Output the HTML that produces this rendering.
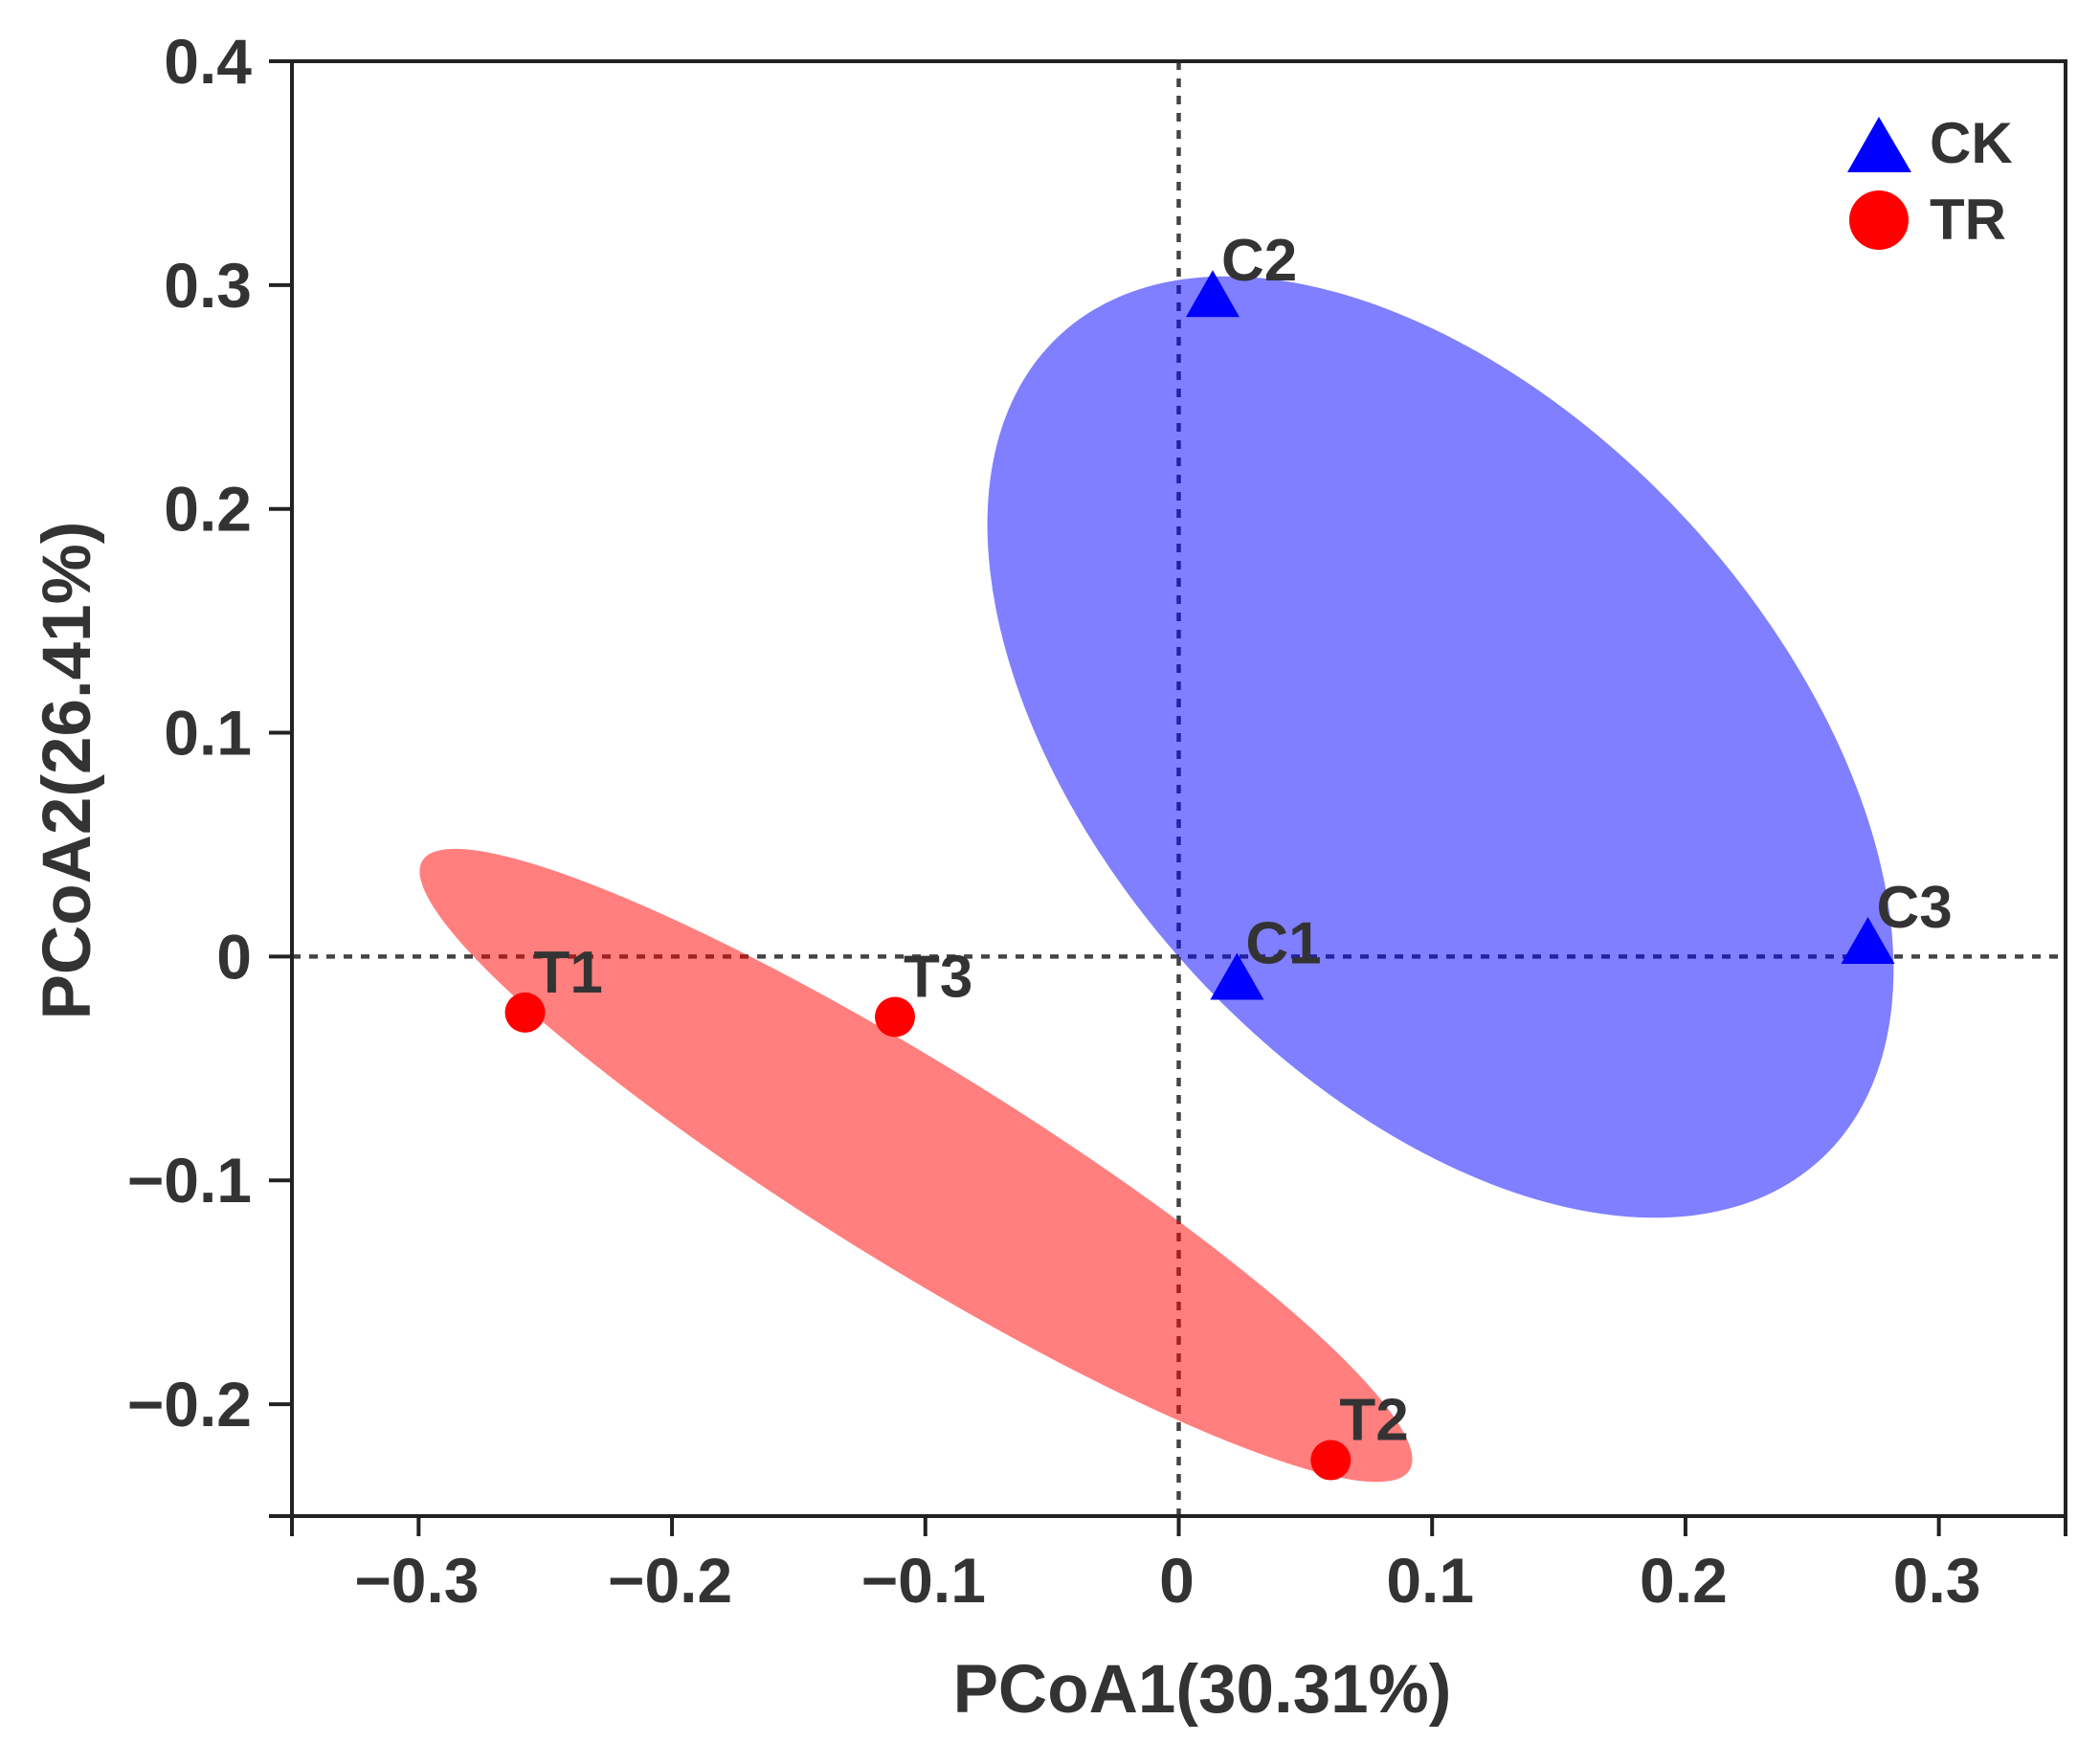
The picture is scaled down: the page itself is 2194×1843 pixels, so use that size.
<!DOCTYPE html>
<html><head><meta charset="utf-8"><style>
html,body{margin:0;padding:0;background:#fff}
svg{display:block}
text{font-family:"Liberation Sans",Arial,sans-serif;font-weight:bold;fill:#333}
</style></head><body>
<svg id="chart" width="2194" height="1843" viewBox="0 0 2194 1843" xmlns="http://www.w3.org/2000/svg">
<g id="grid"></g>
<g id="ellipses"></g>
<g id="axes"></g>
<g id="points"></g>
<g id="legend"></g>
<text x="1256" y="1789" font-size="71" text-anchor="middle">PCoA1(30.31%)</text>
<text transform="translate(94,805) rotate(-90)" font-size="71" text-anchor="middle">PCoA2(26.41%)</text>
</svg>
<script>
const sampleNames = ["C1","C2","C3","T1","T2","T3"];
const sampleGroups = ["CK","CK","CK","TR","TR","TR"];
const pcoa1Values = [0.023, 0.0134, 0.272, -0.258, 0.060, -0.112];
const pcoa2Values = [-0.012, 0.293, 0.004, -0.025, -0.225, -0.027];
const xTicks = [-0.3,-0.2,-0.1,0,0.1,0.2,0.3];
const xTickLabels = ["\u22120.3","\u22120.2","\u22120.1","0","0.1","0.2","0.3"];
const yTicks = [0.4,0.3,0.2,0.1,0,-0.1,-0.2];
const yTickLabels = ["0.4","0.3","0.2","0.1","0","\u22120.1","\u22120.2"];
const groupNames = ["CK","TR"];
const ellipseCx = [0.1033, -0.1037];
const ellipseCy = [0.0936, -0.0933];

const X0=305, X1=2158, Y0=64, Y1=1584;
const xMin=-0.35, xMax=0.35, yMin=-0.25, yMax=0.4;
const sx = v => X0 + (v - xMin) / (xMax - xMin) * (X1 - X0);
const sy = v => Y1 - (v - yMin) / (yMax - yMin) * (Y1 - Y0);
const NS="http://www.w3.org/2000/svg";
function mk(tag, attrs, parent){const e=document.createElementNS(NS,tag);for(const k in attrs)e.setAttribute(k,attrs[k]);parent.appendChild(e);return e;}
const colors={CK:"#0000ff",TR:"#ff0000"};

const grid=document.getElementById('grid');
let l=mk('line',{x1:X0,x2:X1,y1:sy(0),y2:sy(0),stroke:'#444','stroke-width':4.5,'stroke-dasharray':'9 9'},grid);


l=mk('line',{x1:sx(0),x2:sx(0),y1:Y0,y2:Y1,stroke:'#444','stroke-width':4.5,'stroke-dasharray':'9 9'},grid);



const eg=document.getElementById('ellipses');
const ellRx=[586,606], ellRy=[350,105], ellAng=[47.3,31.7];
groupNames.forEach((g,i)=>{
  const cx=sx(ellipseCx[i]), cy=sy(ellipseCy[i]);
  const e=mk('ellipse',{cx:cx,cy:cy,rx:ellRx[i],ry:ellRy[i],transform:`rotate(${ellAng[i]} ${cx} ${cy})`,fill:colors[g],'fill-opacity':0.5},eg);
  
  
});

const ax=document.getElementById('axes');
const fr=mk('rect',{x:X0,y:Y0,width:X1-X0,height:Y1-Y0,fill:'none',stroke:'#222','stroke-width':4},ax);


const xtv=[-0.35].concat(xTicks,[0.35]);
xtv.forEach(v=>{const t=mk('line',{x1:sx(v),x2:sx(v),y1:Y1,y2:Y1+21,stroke:'#222','stroke-width':4},ax);
  
  });
xTicks.forEach((v,i)=>{const t=mk('text',{x:sx(v)-2,y:1674,'font-size':66,'text-anchor':'middle'},ax);t.textContent=xTickLabels[i];
  
  });
const ytv=yTicks.concat([-0.25]);
ytv.forEach(v=>{const t=mk('line',{x1:X0-24,x2:X0,y1:sy(v),y2:sy(v),stroke:'#222','stroke-width':4},ax);
  
  });
yTicks.forEach((v,i)=>{const t=mk('text',{x:263,y:sy(v)+23,'font-size':66,'text-anchor':'end'},ax);t.textContent=yTickLabels[i];
  
  });

const pg=document.getElementById('points');
sampleNames.forEach((n,i)=>{
  const x=sx(pcoa1Values[i]), y=sy(pcoa2Values[i]), g=sampleGroups[i];
  let m;
  if(g==='CK'){m=mk('polygon',{points:`${x},${y-32} ${x-28},${y+17} ${x+28},${y+17}`,fill:colors[g]},pg);}
  else{m=mk('circle',{cx:x,cy:y,r:21,fill:colors[g]},pg);}
  
  
  const t=mk('text',{x:x+9,y:y-21,'font-size':62},pg);t.textContent=n;
  
  
});

const lg=document.getElementById('legend');
let m=mk('polygon',{points:'1963,122 1930,180 1997,180',fill:colors.CK},lg);


let t=mk('text',{x:2016,y:170,'font-size':60},lg);t.textContent=groupNames[0];


m=mk('circle',{cx:1963,cy:230,r:31,fill:colors.TR},lg);


t=mk('text',{x:2016,y:250,'font-size':60},lg);t.textContent=groupNames[1];


</script>
</body></html>
